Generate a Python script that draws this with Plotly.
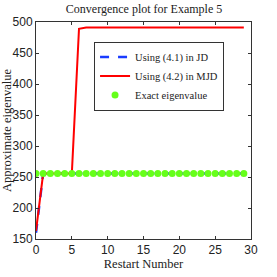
import plotly.graph_objects as go

restarts = list(range(30))
exact_value = 255.6
jd_values = [160] + [255.6] * 29
mjd_values = [163, 255.6, 255.6, 255.6, 255.6, 255.6, 489] + [491] * 23
exact_values = [exact_value] * 30

fig = go.Figure()
fig.add_trace(go.Scatter(x=restarts, y=jd_values, mode="lines", name="Using (4.1) in JD",
                         line=dict(color="#1a3cff", width=2.5, dash="dash")))
fig.add_trace(go.Scatter(x=restarts, y=mjd_values, mode="lines", name="Using (4.2) in MJD",
                         line=dict(color="#ff0000", width=2)))
fig.add_trace(go.Scatter(x=restarts, y=exact_values, mode="markers", name="Exact eigenvalue",
                         marker=dict(color="#66ff1a", size=7, line=dict(width=0))))

serif = "Liberation Serif, Times New Roman, serif"
sans = "Liberation Sans, Arial, sans-serif"
axis_common = dict(showline=True, linecolor="#333", linewidth=1, mirror="ticks",
                   ticks="inside", ticklen=3, tickcolor="#333", showgrid=False,
                   zeroline=False, automargin=False,
                   tickfont=dict(family=sans, size=12, color="#222"))
fig.update_layout(
    width=277, height=277,
    margin=dict(l=36, r=26, t=22, b=38),
    paper_bgcolor="white", plot_bgcolor="white",
    title=dict(text="Convergence plot for Example 5", x=0.52, xanchor="center", y=0.982, yanchor="top",
               font=dict(family=serif, size=12, color="#222")),
    xaxis=dict(range=[0, 30], tickvals=[0, 5, 10, 15, 20, 25, 30],
               title=dict(text="Restart Number", font=dict(family=serif, size=12.5, color="#222"), standoff=1),
               **axis_common),
    yaxis=dict(range=[150, 500], tickvals=[150, 200, 250, 300, 350, 400, 450, 500],
               title=dict(text="Approximate eigenvalue", font=dict(family=serif, size=12.5, color="#222"), standoff=2),
               **axis_common),
    showlegend=True,
    legend=dict(x=0.27, y=0.91, xanchor="left", yanchor="top", bgcolor="white",
                bordercolor="#333", borderwidth=1, font=dict(family=serif, size=10.5, color="#222"),
                tracegroupgap=0, itemwidth=30),
)
fig.write_html("out.html", config={"displayModeBar": False},
               post_script="document.body.style.margin='0';")
